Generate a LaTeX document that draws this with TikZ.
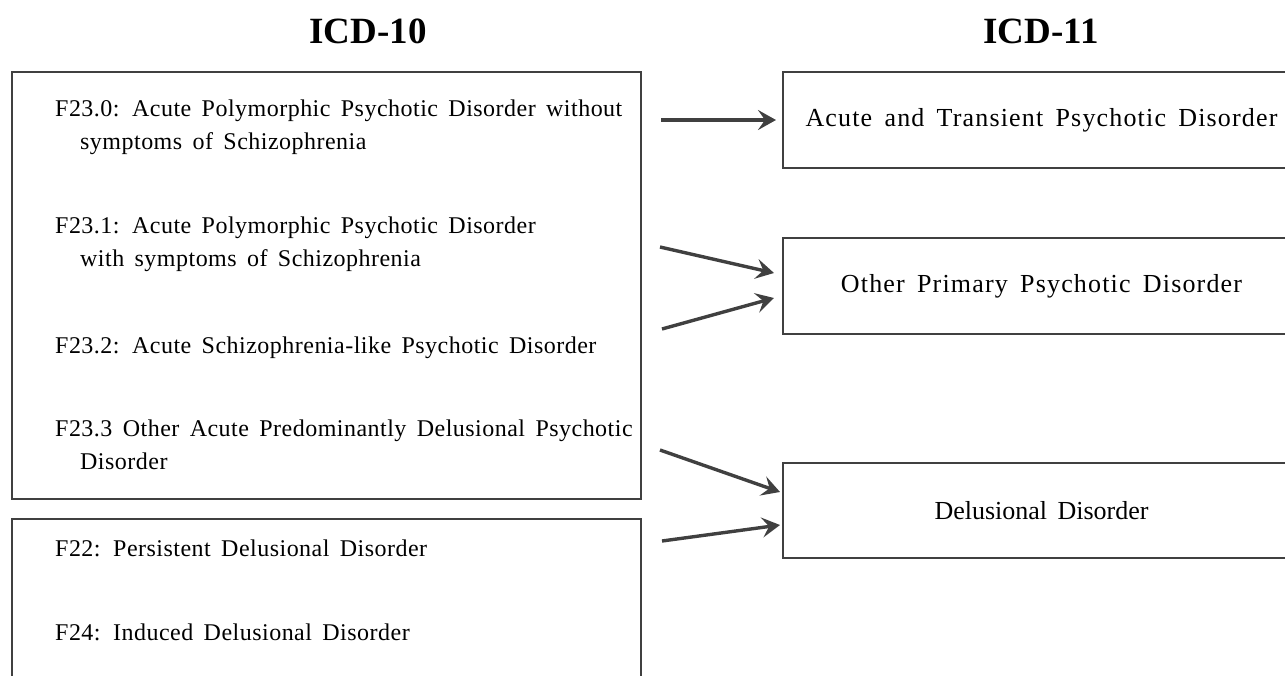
\documentclass[tikz,border=0pt]{standalone}
\usepackage{fontspec}
\setmainfont{Liberation Serif}
\newfontfamily\leftfont[LetterSpace=2,WordSpace=1.6]{Liberation Serif}
\newfontfamily\rightfont[LetterSpace=4.5,WordSpace=1.6]{Liberation Serif}
\newfontfamily\plainfont[WordSpace=1.6]{Liberation Serif}
\usetikzlibrary{arrows.meta}
\definecolor{edge}{HTML}{404040}
\tikzset{
  frame/.style={draw=edge, line width=1.8pt},
  item/.style={anchor=base west, inner sep=0pt, font=\leftfont\fontsize{24}{28}\selectfont},
  rbox/.style={frame, minimum width=517pt, inner sep=0pt, font=\rightfont\fontsize{26}{30}\selectfont},
  title/.style={anchor=base, inner sep=0pt, font=\fontsize{37}{44}\selectfont\bfseries},
  link/.style={draw=edge, line width=3.4pt, -{Stealth[length=18pt,width=20pt,inset=7pt]}},
}
\begin{document}
\begin{tikzpicture}[x=1pt,y=-1pt]
\useasboundingbox (0,0) rectangle (1285,675);
\clip (0,0) rectangle (1285,675);
% titles
\node[title] (t10) at (368,43) {ICD-10};
\node[title] (t11) at (1041,43) {ICD-11};
% left frames
\node[frame, minimum width=629pt, minimum height=427pt, inner sep=0pt] (A) at (326.5,285.5) {};
\node[frame, minimum width=629pt, minimum height=200pt, inner sep=0pt] (B) at (326.5,619) {};
% left items
\node[item] (f230) at (55,116) {F23.0: Acute Polymorphic Psychotic Disorder without};
\node[item] (f230b) at (80,149) {symptoms of Schizophrenia};
\node[item] (f231) at (55,233) {F23.1: Acute Polymorphic Psychotic Disorder};
\node[item] (f231b) at (80,266) {with symptoms of Schizophrenia};
\node[item] (f232) at (55,353) {F23.2: Acute Schizophrenia-like Psychotic Disorder};
\node[item] (f233) at (55,436) {F23.3 Other Acute Predominantly Delusional Psychotic};
\node[item] (f233b) at (80,469) {Disorder};
\node[item] (f22) at (55,556) {F22: Persistent Delusional Disorder};
\node[item] (f24) at (55,640) {F24: Induced Delusional Disorder};
% right boxes
\node[rbox, minimum height=96pt] (R1) at (1041.5,120) {Acute and Transient Psychotic Disorder};
\node[rbox, minimum height=96pt] (R2) at (1041.5,286) {Other Primary Psychotic Disorder};
\node[rbox, minimum height=95pt, font=\plainfont\fontsize{26}{30}\selectfont] (R3) at (1041.5,510.5) {Delusional Disorder};
% arrow anchors
\coordinate (s1) at (661,120);
\coordinate (e1) at (776,120);
\coordinate (s2) at (660,247);
\coordinate (e2) at (774,273);
\coordinate (s3) at (662,329);
\coordinate (e3) at (774,298);
\coordinate (s4) at (660,450);
\coordinate (e4) at (780,492);
\coordinate (s5) at (662,541);
\coordinate (e5) at (780,525);
\draw[link] (s1) -- (e1);
\draw[link] (s2) -- (e2);
\draw[link] (s3) -- (e3);
\draw[link] (s4) -- (e4);
\draw[link] (s5) -- (e5);
\end{tikzpicture}
\end{document}
